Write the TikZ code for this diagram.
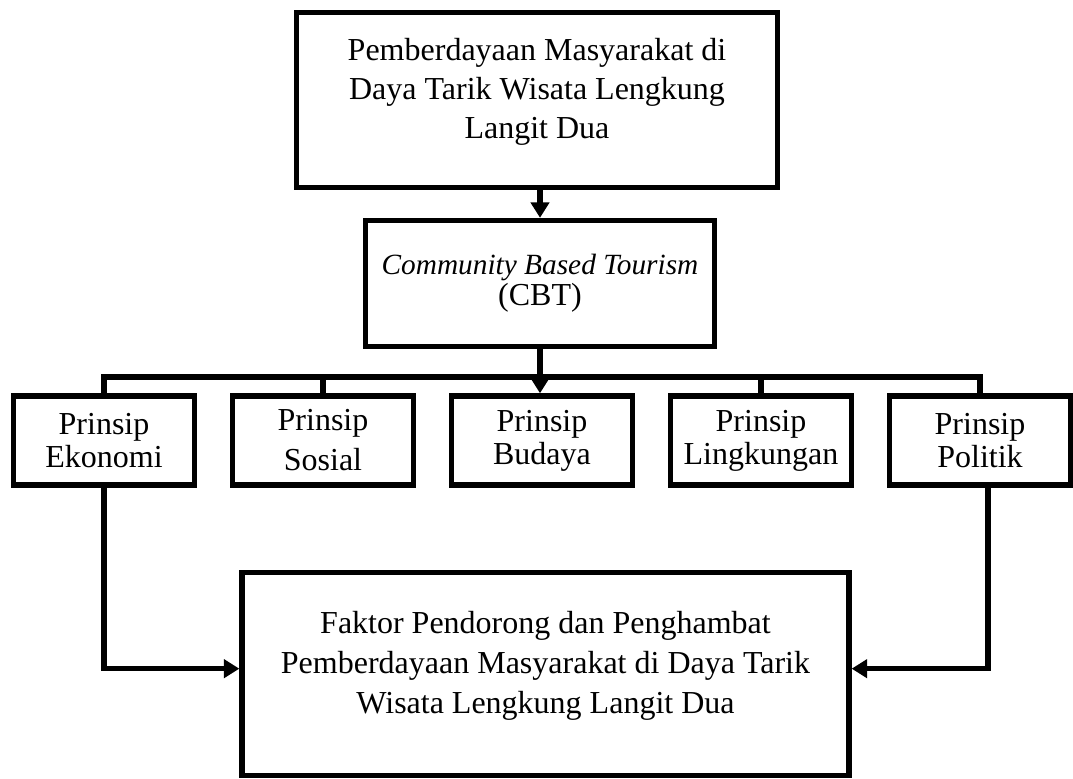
\documentclass[tikz,border=0pt]{standalone}
\usepackage{fontspec}
\setmainfont{Liberation Serif}
\usetikzlibrary{arrows.meta,positioning,calc}
\tikzset{
  mainbox/.style ={draw,line width=2pt,align=center,inner sep=0pt,font=\fontsize{12}{14.6}\selectfont},
  pbox/.style    ={draw,line width=2pt,align=center,inner sep=0pt,minimum width=67.9pt,minimum height=33.4pt,font=\fontsize{12}{12.4}\selectfont},
  wire/.style    ={line width=2pt},
  flow/.style    ={line width=2pt,-{Triangle[length=5.8pt,width=6.8pt]}},
}
\begin{document}
\begin{tikzpicture}[x=0.375pt,y=-0.375pt]
  \useasboundingbox (0,0) rectangle (1073,778);
  \node[mainbox,minimum width=180.4pt,minimum height=65.6pt,text depth=9pt](lld) at (537,100){Pemberdayaan Masyarakat di\\Daya Tarik Wisata Lengkung\\Langit Dua};
  \node[mainbox,minimum width=130.9pt,minimum height=47.25pt,font=\fontsize{12}{11.6}\selectfont](cbt) at (540,283.5){{\fontsize{11}{11.6}\selectfont\itshape Community Based Tourism}\\(CBT)};
  \node[pbox](ekonomi) at (104,440.5){Prinsip\\Ekonomi};  \node[pbox,font=\fontsize{12}{15}\selectfont](sosial) at (323,440.5){Prinsip\\Sosial};
  \node[pbox](budaya) at (542,440.5){Prinsip\\Budaya};    \node[pbox](lingkungan) at (761,440.5){Prinsip\\Lingkungan};
  \node[pbox](politik) at (980,440.5){Prinsip\\Politik};
  \node[mainbox,minimum width=227.6pt,minimum height=76.1pt,font=\fontsize{12}{15}\selectfont,text depth=9pt](faktor) at (545.5,674){Faktor Pendorong dan Penghambat\\Pemberdayaan Masyarakat di Daya Tarik\\Wisata Lengkung Langit Dua};
  \coordinate (bus) at (540,377);
  \draw[flow](cbt.north |- lld.south)--(cbt.north);
  \draw[wire](ekonomi.north) |- (bus) -| (politik.north);
  \foreach \n in {sosial,lingkungan}{\draw[wire](\n.north)--(\n.north |- bus);}
  \draw[flow](cbt.south)--(cbt.south |- budaya.north);
  \draw[flow](ekonomi.south) |- ([yshift=2pt]faktor.west);
  \draw[flow]([xshift=3pt]politik.south) |- ([yshift=2pt]faktor.east);
\end{tikzpicture}
\end{document}
